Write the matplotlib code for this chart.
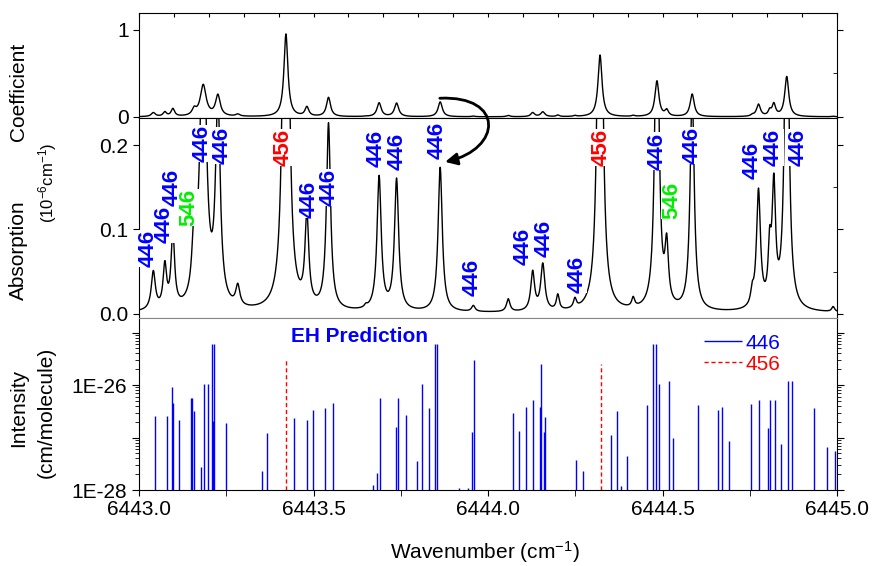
import numpy as np
import matplotlib
matplotlib.use('Agg')
import matplotlib.pyplot as plt
from matplotlib import ticker
from matplotlib.path import Path
from matplotlib.patches import FancyArrowPatch

plt.rcParams['font.family'] = ['Liberation Sans', 'DejaVu Sans']
plt.rcParams['mathtext.default'] = 'regular'

peak_pos = [6443.041, 6443.074, 6443.097, 6443.158, 6443.184, 6443.226, 6443.283,
            6443.421, 6443.481, 6443.543, 6443.650, 6443.688, 6443.738, 6443.863,
            6443.958, 6444.058, 6444.128, 6444.157, 6444.200, 6444.249, 6444.321,
            6444.416, 6444.484, 6444.512, 6444.585, 6444.757, 6444.775, 6444.807,
            6444.819, 6444.856, 6444.989]
peak_height = [0.045, 0.050, 0.088, 0.072, 0.36, 0.24, 0.024,
               0.95, 0.106, 0.22, 0.003, 0.158, 0.155, 0.171,
               0.007, 0.015, 0.046, 0.055, 0.018, 0.011, 0.71,
               0.011, 0.41, 0.068, 0.26, 0.015, 0.139, 0.06,
               0.138, 0.46, 0.006]
peak_hwhm = [0.007, 0.006, 0.006, 0.007, 0.010, 0.008, 0.007,
             0.0068, 0.0065, 0.007, 0.005, 0.0072, 0.0072, 0.0072,
             0.006, 0.006, 0.0065, 0.007, 0.005, 0.005, 0.0068,
             0.005, 0.0068, 0.006, 0.007, 0.005, 0.0068, 0.005,
             0.006, 0.0068, 0.005]
baseline = 0.001

# assignment labels in the zoomed panel
lab_pos = [6443.026, 6443.072, 6443.095, 6443.143, 6443.180, 6443.238, 6443.413,
           6443.487, 6443.544, 6443.679, 6443.739, 6443.854, 6443.954, 6444.101,
           6444.161, 6444.255, 6444.323, 6444.484, 6444.527, 6444.585, 6444.756,
           6444.817, 6444.888]
lab_y = [0.056, 0.084, 0.128, 0.104, 0.180, 0.177, 0.175, 0.114, 0.128, 0.174,
         0.171, 0.183, 0.021, 0.058, 0.067, 0.025, 0.175, 0.171, 0.112, 0.177,
         0.160, 0.175, 0.175]
lab_txt = ['446', '446', '446', '546', '446', '446', '456', '446', '446', '446',
           '446', '446', '446', '446', '446', '446', '456', '446', '546', '446',
           '446', '446', '446']
lab_col = {'446': '#0000ff', '456': '#ff0000', '546': '#00ee00'}

# EH prediction sticks (cm/molecule)
pos446 = [6443.046, 6443.079, 6443.095, 6443.098, 6443.114, 6443.150, 6443.153,
          6443.159, 6443.179, 6443.187, 6443.199, 6443.208, 6443.211, 6443.214,
          6443.249, 6443.353, 6443.368, 6443.445, 6443.481, 6443.4995, 6443.534,
          6443.556, 6443.670, 6443.682, 6443.690, 6443.735, 6443.742, 6443.765,
          6443.796, 6443.812, 6443.830, 6443.848, 6443.855, 6443.918, 6443.944,
          6443.955, 6443.959, 6444.072, 6444.090, 6444.109, 6444.130, 6444.149,
          6444.153, 6444.161, 6444.164, 6444.252, 6444.273, 6444.353, 6444.370,
          6444.380, 6444.399, 6444.456, 6444.474, 6444.481, 6444.491, 6444.518,
          6444.529, 6444.601, 6444.659, 6444.670, 6444.691, 6444.754, 6444.777,
          6444.802, 6444.809, 6444.823, 6444.839, 6444.860, 6444.871, 6444.935,
          6444.971, 6444.994]
int446 = [2.6e-27, 2.6e-27, 9e-27, 4.5e-27, 2.2e-27, 5.6e-27, 5.6e-27,
          3.2e-27, 2.8e-28, 1.05e-26, 1.05e-26, 6e-26, 2.1e-27, 6e-26,
          1.9e-27, 2.3e-28, 1.2e-27, 2.4e-27, 2.2e-27, 3.4e-27, 3.6e-27,
          4.5e-27, 1.25e-28, 2.1e-28, 5.6e-27, 1.6e-27, 5.6e-27, 2.7e-27,
          3.6e-28, 1.07e-26, 3.7e-27, 6e-26, 6e-26, 1.1e-28, 1.1e-28,
          1.3e-27, 3e-26, 2.9e-27, 1.35e-27, 3.8e-27, 5.2e-27, 3.9e-27,
          2.5e-26, 1.3e-27, 2.5e-27, 3.8e-28, 2.3e-28, 1.1e-27, 3.2e-27,
          1.2e-28, 4.4e-28, 4.2e-27, 6e-26, 6e-26, 1.05e-26, 1.2e-26,
          1e-27, 4.2e-27, 3.3e-27, 3.8e-27, 8.7e-28, 4.4e-27, 5.3e-27,
          1.5e-27, 5.3e-27, 5.3e-27, 7.5e-28, 1.2e-26, 1.2e-26, 3.6e-27,
          6.7e-28, 5.6e-28]
pos456 = [6443.421, 6444.323]
int456 = [3.2e-26, 2.5e-26]

wn = np.linspace(6443.0, 6445.0, 4001)
absorb = np.full_like(wn, baseline)
for p, h, g in zip(peak_pos, peak_height, peak_hwhm):
    absorb += h / (1 + ((wn - p) / g) ** 2)

fig = plt.figure(figsize=(8.72, 5.66), dpi=100)
L, W = 139 / 872, 698 / 872
ax1 = fig.add_axes([L, 1 - 118 / 566, W, 105 / 566])
ax2 = fig.add_axes([L, 1 - 318 / 566, W, 200 / 566])
ax3 = fig.add_axes([L, 1 - 490 / 566, W, 172 / 566])

# top: full spectrum
ax1.plot(wn, absorb, color='black', lw=1)
ax1.set_xlim(6443.0, 6445.0)
ax1.set_ylim(-0.012, 1.195)
ax1.set_yticks([0, 1])
ax1.set_yticklabels(['0', '1'])
ax1.yaxis.set_minor_locator(ticker.FixedLocator([0.5]))
ax1.xaxis.set_major_locator(ticker.MultipleLocator(0.1))
ax1.tick_params(axis='x', which='both', bottom=False, top=True, direction='in',
                labelbottom=False, length=3)
ax1.tick_params(axis='y', which='both', left=True, right=True, labelsize=15, length=4)
ax1.tick_params(axis='y', which='minor', left=False, direction='in', length=3)

# middle: zoomed spectrum with labels
ax2.plot(wn, absorb, color='black', lw=1, zorder=2)
ax2.set_xlim(6443.0, 6445.0)
ax2.set_ylim(-0.0048, 0.232)
ax2.set_yticks([0.0, 0.1, 0.2])
ax2.set_yticklabels(['0.0', '0.1', '0.2'])
ax2.yaxis.set_minor_locator(ticker.MultipleLocator(0.05))
ax2.tick_params(axis='x', which='both', bottom=False, top=False, labelbottom=False)
ax2.tick_params(axis='y', which='major', labelsize=15, length=4, right=True)
ax2.tick_params(axis='y', which='minor', left=False, right=True, direction='in', length=3)
ax2.spines['bottom'].set_color('#888888')
for x, y, t in zip(lab_pos, lab_y, lab_txt):
    ax2.text(x, y, t, rotation=90, ha='center', va='bottom', fontsize=16,
             fontweight='bold', color=lab_col[t], zorder=3,
             bbox=dict(facecolor='white', edgecolor='none', pad=0))

# curved arrow from the peak in the top panel down to the same peak below
p0 = ax1.transData.transform((6443.862, 0.215))
p3 = ax2.transData.transform((6443.877, 0.18))
verts = [p0, p0 + [65, 3], p3 + [57, 13], p3]
arrow = FancyArrowPatch(path=Path(verts, [Path.MOVETO, Path.CURVE4, Path.CURVE4, Path.CURVE4]),
                        arrowstyle='-|>', mutation_scale=18, lw=2, color='black',
                        transform=None)
fig.add_artist(arrow)

# bottom: stick prediction
ax3.vlines(pos446, 1e-28, int446, colors='#0000ff', lw=1, label='446')
ax3.vlines(pos456, 1e-28, int456, colors='#ff0000', lw=1,
           linestyles=(0, (3, 2)), label='456')
ax3.set_yscale('log')
ax3.set_xlim(6443.0, 6445.0)
ax3.set_ylim(1e-28, 1.9e-25)
ax3.yaxis.set_major_locator(ticker.LogLocator(base=10, numticks=10))
ax3.yaxis.set_minor_locator(ticker.LogLocator(base=10, subs=np.arange(2, 10), numticks=10))
ax3.yaxis.set_major_formatter(ticker.FuncFormatter(
    lambda v, p: '1E%d' % round(np.log10(v)) if round(np.log10(v)) % 2 == 0 else ''))
ax3.yaxis.set_minor_formatter(ticker.NullFormatter())
ax3.tick_params(axis='y', which='both', left=True, right=True, labelsize=15)
ax3.tick_params(axis='y', which='major', length=5)
ax3.tick_params(axis='y', which='minor', length=3)
ax3.xaxis.set_major_locator(ticker.MultipleLocator(0.5))
ax3.xaxis.set_minor_locator(ticker.MultipleLocator(0.25))
ax3.xaxis.set_major_formatter(ticker.FormatStrFormatter('%.1f'))
ax3.tick_params(axis='x', which='both', labelsize=15, length=4)
ax3.spines['top'].set_color('#888888')
ax3.text(6443.633, 8.5e-26, 'EH Prediction', ha='center', va='center',
         fontsize=15, fontweight='bold', color='#0000ff')
leg = ax3.legend(loc='upper left', bbox_to_anchor=(0.795, 0.97), frameon=False,
                 fontsize=15, handlelength=1.8, handletextpad=0.2, borderpad=0,
                 labelspacing=0.1)
for txt, c in zip(leg.get_texts(), ['#0000ff', '#ff0000']):
    txt.set_color(c)

# axis labels
fig.text(0.021, 0.837, 'Coefficient', rotation=90, ha='center', va='center', fontsize=15)
fig.text(0.021, 0.558, 'Absorption', rotation=90, ha='center', va='center', fontsize=15)
fig.text(0.055, 0.677, '(10$^{-6}$cm$^{-1}$)', rotation=90, ha='center', va='center',
         fontsize=12)
fig.text(0.021, 0.279, 'Intensity', rotation=90, ha='center', va='center', fontsize=15)
fig.text(0.053, 0.272, '(cm/molecule)', rotation=90, ha='center', va='center', fontsize=15)
fig.text(0.556, 0.025, 'Wavenumber (cm$^{-1}$)', ha='center', va='center', fontsize=15)

fig.savefig('out.png', dpi=100)
